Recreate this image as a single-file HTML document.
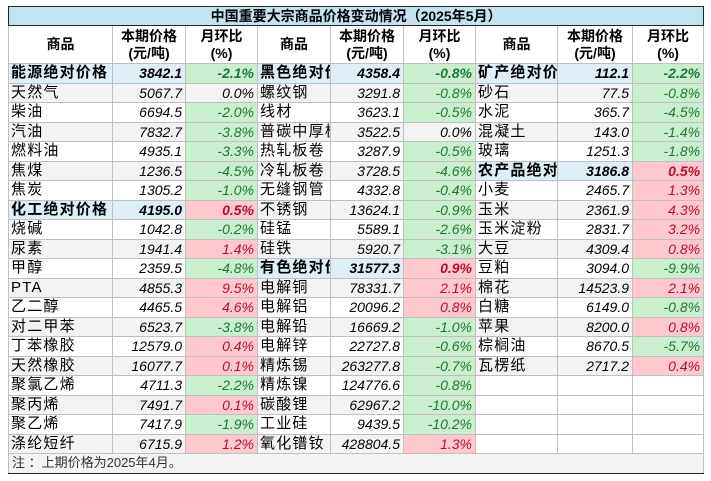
<!DOCTYPE html>
<html><head><meta charset="utf-8">
<style>
body{margin:0;width:711px;height:481px;background:#fff;overflow:hidden;font-family:"Liberation Sans","Noto Sans CJK SC",sans-serif;}
table{position:absolute;left:8px;top:6px;border-collapse:collapse;table-layout:fixed;width:695px;}
td{border:1px solid #bfbfbf;padding:0 3px;height:18.5px;font-size:14px;white-space:nowrap;overflow:hidden;line-height:18px;}
.title{background:#c5e3ee;font-weight:bold;text-align:center;font-size:14px;height:18px;border:1.5px solid #222;}
.hd{font-weight:bold;text-align:center;font-size:14px;line-height:17px;height:37px;}
.nm{letter-spacing:1.2px;font-size:15px;padding-left:2px;padding-right:0;}
.num{text-align:right;font-style:italic;}
.g{background:#f3f3f3;}
.cat{background:#ddeef6;font-weight:bold;}
.neg{background:#c9efce;color:#1f7a30;}
.pos{background:#ffc7ce;color:#b0122a;}
.note{font-size:13px;color:#333;background:#f3f3f3;border-bottom:1.5px solid #222;}
</style></head><body>
<table id="t">
<colgroup><col style="width:104px"><col style="width:73px"><col style="width:72px"><col style="width:73px"><col style="width:73px"><col style="width:72px"><col style="width:82px"><col style="width:75px"><col style="width:71px"></colgroup>
<tr><td colspan="9" class="title">中国重要大宗商品价格变动情况（2025年5月）</td></tr>
<tr>
<td class="hd">商品</td><td class="hd">本期价格<br>(元/吨)</td><td class="hd">月环比<br>(%)</td>
<td class="hd">商品</td><td class="hd">本期价格<br>(元/吨)</td><td class="hd">月环比<br>(%)</td>
<td class="hd">商品</td><td class="hd">本期价格<br>(元/吨)</td><td class="hd">月环比<br>(%)</td>
</tr>
</table>
<script>
const names1=["能源绝对价格","天然气","柴油","汽油","燃料油","焦煤","焦炭","化工绝对价格","烧碱","尿素","甲醇","PTA","乙二醇","对二甲苯","丁苯橡胶","天然橡胶","聚氯乙烯","聚丙烯","聚乙烯","涤纶短纤"];
const prices1=[3842.1,5067.7,6694.5,7832.7,4935.1,1236.5,1305.2,4195.0,1042.8,1941.4,2359.5,4855.3,4465.5,6523.7,12579.0,16077.7,4711.3,7491.7,7417.9,6715.9];
const mom1=[-2.1,0.0,-2.0,-3.8,-3.3,-4.5,-1.0,0.5,-0.2,1.4,-4.8,9.5,4.6,-3.8,0.4,0.1,-2.2,0.1,-1.9,1.2];
const names2=["黑色绝对价","螺纹钢","线材","普碳中厚板","热轧板卷","冷轧板卷","无缝钢管","不锈钢","硅锰","硅铁","有色绝对价","电解铜","电解铝","电解铅","电解锌","精炼锡","精炼镍","碳酸锂","工业硅","氧化镨钕"];
const prices2=[4358.4,3291.8,3623.1,3522.5,3287.9,3728.5,4332.8,13624.1,5589.1,5920.7,31577.3,78331.7,20096.2,16669.2,22727.8,263277.8,124776.6,62967.2,9439.5,428804.5];
const mom2=[-0.8,-0.8,-0.5,0.0,-0.5,-4.6,-0.4,-0.9,-2.6,-3.1,0.9,2.1,0.8,-1.0,-0.6,-0.7,-0.8,-10.0,-10.2,1.3];
const names3=["矿产绝对价","砂石","水泥","混凝土","玻璃","农产品绝对","小麦","玉米","玉米淀粉","大豆","豆粕","棉花","白糖","苹果","棕榈油","瓦楞纸"];
const prices3=[112.1,77.5,365.7,143.0,1251.3,3186.8,2465.7,2361.9,2831.7,4309.4,3094.0,14523.9,6149.0,8200.0,8670.5,2717.2];
const mom3=[-2.2,-0.8,-4.5,-1.4,-1.8,0.5,1.3,4.3,3.2,0.8,-9.9,2.1,-0.8,0.8,-5.7,0.4];
const cats1=[0,7],cats2=[0,10],cats3=[0,5];
const t=document.getElementById('t');
function cell(tr,txt,cls){const td=document.createElement('td');td.className=cls;td.textContent=txt;tr.appendChild(td);return td;}
for(let i=0;i<20;i++){
  const tr=document.createElement('tr');
  
  
  const g=(i%2===1)?' g':'';
  const groups=[[names1,prices1,mom1,cats1],[names2,prices2,mom2,cats2],[names3,prices3,mom3,cats3]];
  groups.forEach((gr,k)=>{
    const [n,p,m,c]=gr;
    if(i<n.length){
      const isCat=c.includes(i);
      const a=cell(tr,n[i],'nm'+(isCat?' cat':g));
      
      
      const b=cell(tr,p[i].toFixed(1),'num'+(isCat?' cat':g));
      
      
      const v=m[i];
      const cc=cell(tr,v.toFixed(1)+'%','num'+(v<0?' neg':v>0?' pos':g));
      if(isCat)cc.style.fontWeight='bold';
      
      
    }else{
      for(let j=0;j<3;j++){const e=cell(tr,'','');
        
        }
    }
  });
  t.appendChild(tr);
}
const tr=document.createElement('tr');


const nt=cell(tr,'注 ：上期价格为2025年4月。','note');
nt.colSpan=9;


t.appendChild(tr);
</script>
</body></html>
